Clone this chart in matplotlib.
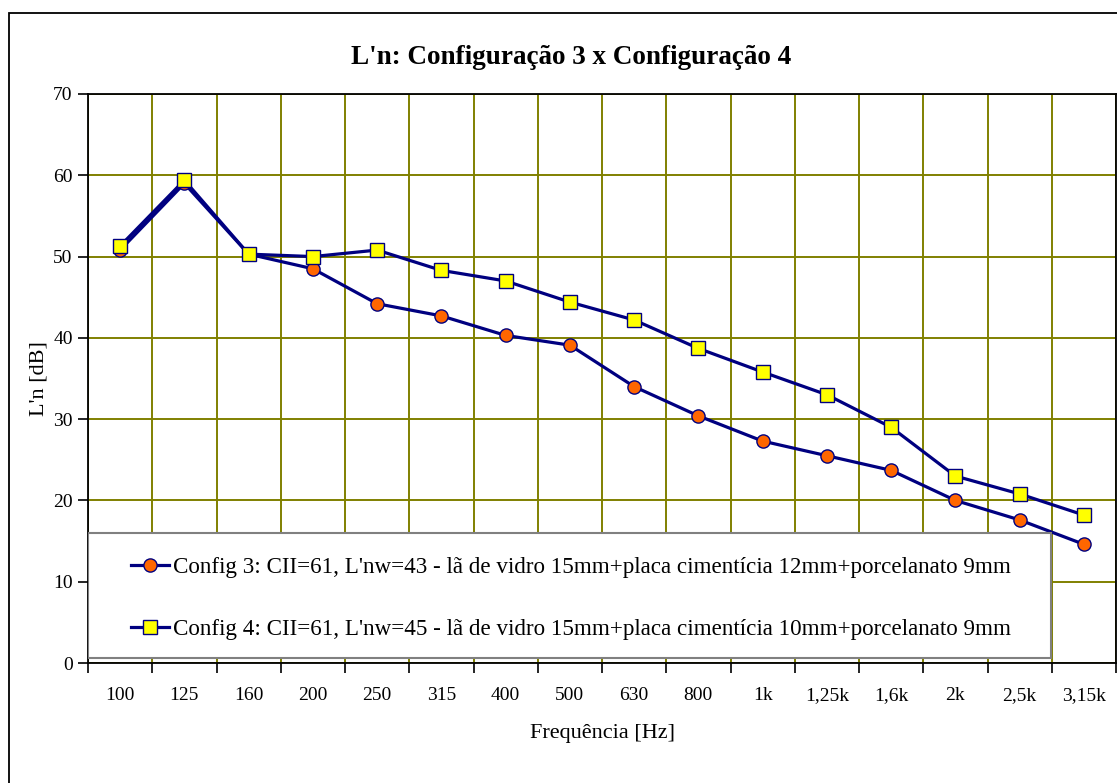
import matplotlib
matplotlib.use("Agg")
from matplotlib import pyplot as plt
from matplotlib.patches import Rectangle

# frequency bands (category axis)
freqs = ["100", "125", "160", "200", "250", "315", "400", "500", "630",
         "800", "1k", "1,25k", "1,6k", "2k", "2,5k", "3,15k"]

# L'n values, dB
config3 = [50.8, 59.0, 50.3, 48.5, 44.2, 42.7, 40.3, 39.1, 34.0,
           30.4, 27.3, 25.5, 23.7, 20.0, 17.6, 14.6]
config4 = [51.3, 59.4, 50.3, 50.0, 50.8, 48.3, 47.0, 44.4, 42.2,
           38.7, 35.8, 33.0, 29.0, 23.0, 20.8, 18.2]

label3 = "Config 3: CII=61, L'nw=43 - lã de vidro 15mm+placa cimentícia 12mm+porcelanato 9mm"
label4 = "Config 4: CII=61, L'nw=45 - lã de vidro 15mm+placa cimentícia 10mm+porcelanato 9mm"

plt.rcParams['font.family'] = ['Liberation Serif', 'DejaVu Serif']

W, H = 1117, 783
fig = plt.figure(figsize=(W / 100, H / 100), dpi=100)

# outer chart frame (runs off the right/bottom like the source image)
fig.patches.append(Rectangle((9 / W, -0.1), 1.2, 0.1 + (1 - 13 / H),
                             transform=fig.transFigure, fill=False,
                             edgecolor='black', linewidth=1.3))

ax = fig.add_axes([88 / W, 1 - 663 / H, 1028 / W, 569 / H])

x = list(range(len(freqs)))
navy = '#000080'
ax.plot(x, config3, color=navy, lw=2.3, marker='o', ms=9.5,
        mfc='#FF6600', mec=navy, mew=1.0, label=label3, zorder=3)
ax.plot(x, config4, color=navy, lw=2.3, marker='s', ms=9.5,
        mfc='#FFFF00', mec=navy, mew=1.0, label=label4, zorder=4)

ax.set_xlim(-0.5, len(freqs) - 0.5)
ax.set_ylim(0, 70)
ax.set_yticks(range(0, 71, 10))
ax.set_xticks(x)
ax.set_xticklabels(freqs)
ax.set_xticks([i + 0.5 for i in range(-1, len(freqs))], minor=True)

grid_col = '#808000'
ax.grid(True, which='major', axis='y', color=grid_col, lw=1.4)
ax.grid(True, which='minor', axis='x', color=grid_col, lw=1.4)
ax.set_axisbelow(True)

ax.tick_params(axis='x', which='major', length=0, pad=17, labelsize=14)
ax.tick_params(axis='x', which='minor', length=7, width=1.2, direction='out')
ax.tick_params(axis='y', length=7, width=1.2, pad=4, labelsize=14)
for s in ax.spines.values():
    s.set_color('black')
    s.set_linewidth(1.3)

ax.set_xlabel("Frequência [Hz]", fontsize=16, labelpad=15)
ax.set_ylabel("L'n [dB]", fontsize=16, labelpad=3)

fig.text(571 / W, 1 - 57 / H, "L'n: Configuração 3 x Configuração 4",
         ha='center', va='center', fontsize=19.5, fontweight='bold')

# legend box
box = Rectangle((0, 5 / 569), 963 / 1028, 125 / 569, transform=ax.transAxes,
                facecolor='white', edgecolor='#808080', lw=1.5, zorder=5)
ax.add_patch(box)
leg = ax.legend(loc='upper left', bbox_to_anchor=(31 / 1028, 1 - (545 - 94) / 569),
                frameon=False, fontsize=16.6, borderpad=0, handlelength=1.65,
                handletextpad=0.2, labelspacing=1.8)
leg.set_zorder(6)

fig.savefig("out.png", dpi=100)
